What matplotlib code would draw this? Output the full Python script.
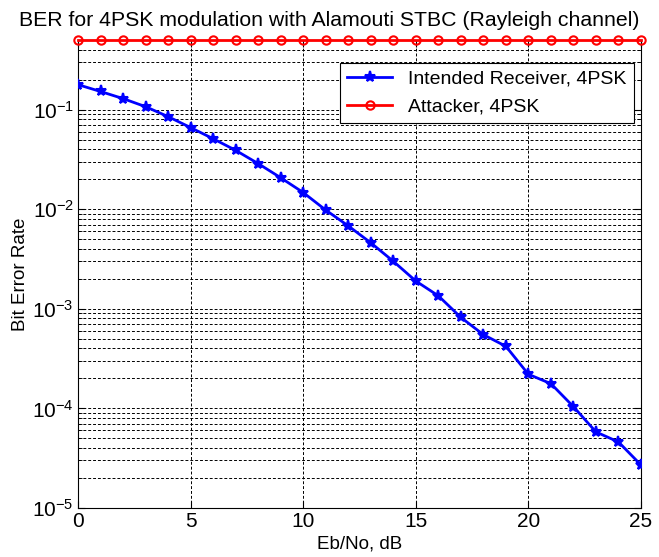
import matplotlib
matplotlib.use("Agg")
import matplotlib.pyplot as plt
import numpy as np
from matplotlib.ticker import LogLocator, NullFormatter

plt.rcParams['font.family'] = ['Liberation Sans', 'DejaVu Sans']
plt.rcParams['mathtext.fontset'] = 'custom'
plt.rcParams['mathtext.rm'] = 'Liberation Sans'
plt.rcParams['mathtext.it'] = 'Liberation Sans'

ebno = list(range(0, 26))
ber_receiver = [0.178, 0.152, 0.129, 0.107, 0.085, 0.066, 0.051, 0.039, 0.0287, 0.0207,
                0.0147, 0.0098, 0.0068, 0.0046, 0.0030, 0.0019, 0.00135, 0.00082, 0.00055,
                0.00042, 0.00022, 0.000177, 0.000104, 5.8e-5, 4.6e-5, 2.7e-5]
ber_attacker = [0.5] * 26

title = "BER for 4PSK modulation with Alamouti STBC (Rayleigh channel)"

fig = plt.figure(figsize=(6.59, 5.57), dpi=100)
ax = fig.add_axes([0.1184, 0.0880, 0.8543, 0.8402])

ax.semilogy(ebno, ber_receiver, '-*', color='#0000ff', lw=2, ms=8, mew=1.5,
            label='Intended Receiver, 4PSK', zorder=3)
ax.semilogy(ebno, ber_attacker, '-o', color='#ff0000', lw=2, ms=6, mew=1.5,
            mfc='none', label='Attacker, 4PSK', zorder=4, clip_on=False)

ax.set_xlim(0, 25)
ax.set_ylim(1e-5, 0.5)
ax.set_xticks([0, 5, 10, 15, 20, 25])
ax.yaxis.set_major_locator(LogLocator(base=10, numticks=10))
ax.yaxis.set_minor_locator(LogLocator(base=10, subs=np.arange(2, 10), numticks=20))
ax.yaxis.set_minor_formatter(NullFormatter())

gstyle = dict(color='black', linestyle=(0, (3, 2)), linewidth=0.7)
ax.grid(True, which='major', axis='both', **gstyle)
ax.grid(True, which='minor', axis='y', **gstyle)

ax.tick_params(which='both', direction='in', top=True, right=True, labelsize=15)
ax.tick_params(which='major', length=5, pad=3)
ax.tick_params(which='minor', length=3)
for s in ax.spines.values():
    s.set_linewidth(0.8)

fig.text(0.5, 1 - 26 / 557, title, fontsize=15.3, ha='center', va='baseline')
ax.set_xlabel('Eb/No, dB', fontsize=13.5, labelpad=3)
ax.set_ylabel('Bit Error Rate', fontsize=13.5, labelpad=2)

leg = ax.legend(loc='upper right', fontsize=14, fancybox=False, framealpha=1,
                edgecolor='black', borderaxespad=0.2, handlelength=2.3,
                bbox_to_anchor=(0.994, 0.96))
leg.get_frame().set_linewidth(0.8)

fig.savefig('out.png', dpi=100)
